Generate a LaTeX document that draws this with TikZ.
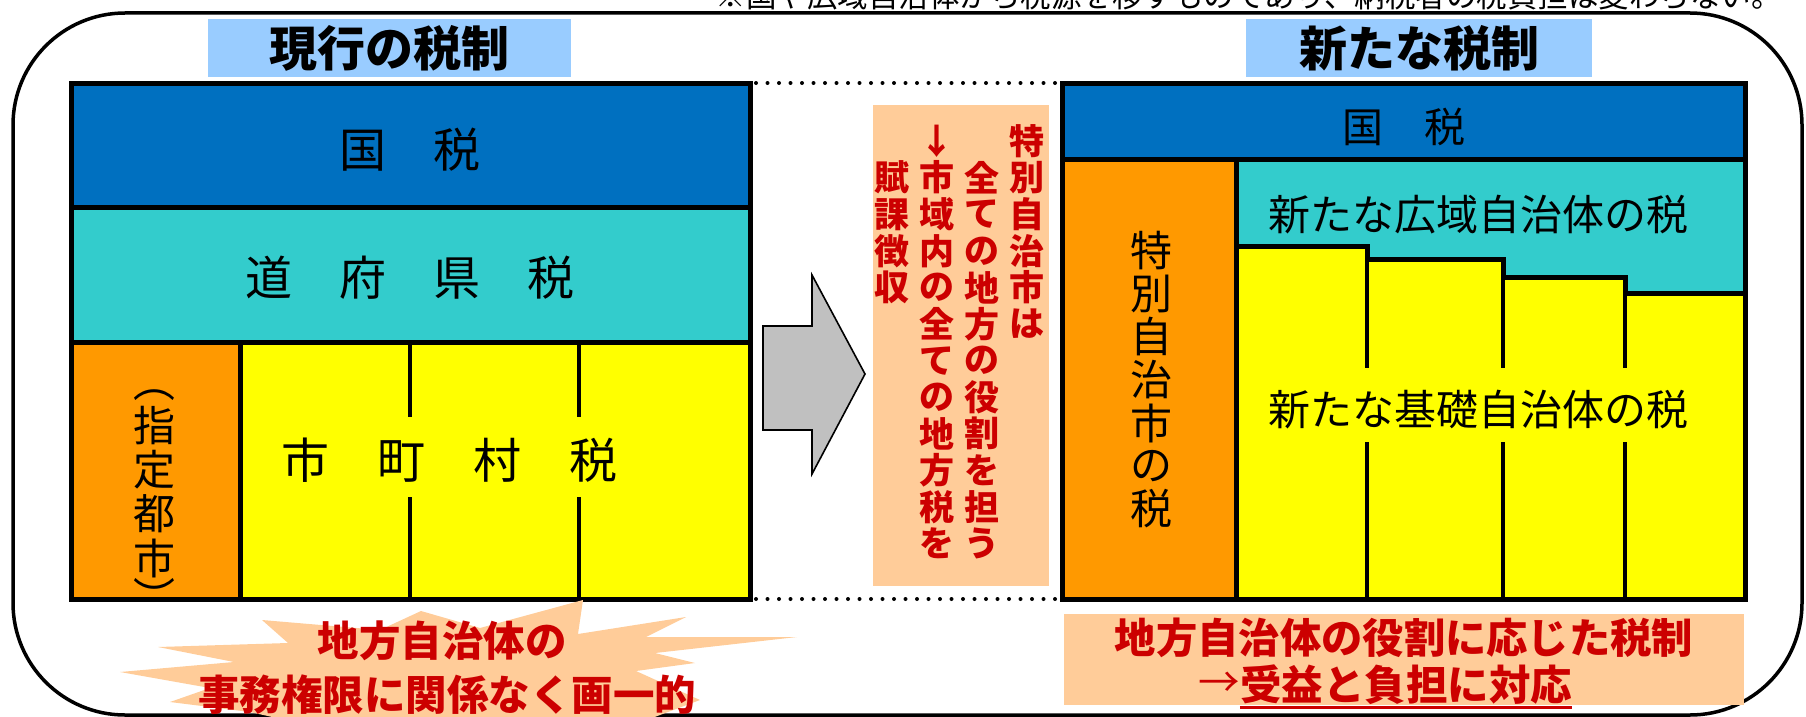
\documentclass[tikz,border=0pt]{standalone}
\usepackage{fontspec}
\newfontfamily\jp{Noto Sans CJK JP}
\definecolor{nblue}{HTML}{0070C0}
\definecolor{ncyan}{HTML}{33CCCC}
\definecolor{norange}{HTML}{FF9900}
\definecolor{nyellow}{HTML}{FFFF00}
\definecolor{ntitle}{HTML}{99CCFF}
\definecolor{npeach}{HTML}{FFCC99}
\definecolor{nred}{HTML}{CC0000}
\definecolor{ngray}{HTML}{C0C0C0}
\newcommand\fs[1]{\fontsize{#1}{#1}\selectfont}
\newlength\vtp
\def\vtloop#1{\ifx\relax#1\else\hbox to 1em{\hss\vbox to \vtp{\vss\hbox{#1}\vss}\hss}\expandafter\vtloop\fi}
\newcommand\vstack[2]{\setlength\vtp{#1}\vbox{\offinterlineskip\vtloop#2\relax}}
\tikzset{
  border/.style={draw=black, line width=5pt},
  divider/.style={draw=black, line width=4.5pt},
  lbl/.style={inner sep=0pt, font=\jp\fs{47}},
  lblr/.style={inner sep=0pt, font=\jp\fs{42}},
  titlebox/.style={fill=ntitle, inner sep=0pt, minimum height=58pt, font=\jp\bfseries\fs{48}},
  redtxt/.style={inner sep=0pt, text=nred, font=\jp\bfseries\fs{41.5}},
  vred/.style={inner sep=0pt, text=nred, font=\jp\bfseries\fs{35}},
  dots/.style={line width=4pt, dash pattern=on 0pt off 11.5pt, line cap=round},
}
\begin{document}
\begin{tikzpicture}[x=1pt,y=-1pt]
\useasboundingbox (0,0) rectangle (1806,717);
% outer frame
\draw[line width=3.5pt, rounded corners=112pt] (13,13) rectangle (1802,715);
% top note (clipped at page top)
\node[anchor=base east, inner sep=0pt, font=\jp\fs{30.5}] (note) at (1782,8)
  {※国や広域自治体から税源を移すものであり、納税者の税負担は変わらない。};
% titles
\node[titlebox, minimum width=363pt] (t1) at (389.5,48) {現行の税制};
\node[titlebox, minimum width=346pt] (t2) at (1419,48) {新たな税制};

% ---------- left block ----------
\fill[nblue] (71,83) rectangle (750,207);
\fill[ncyan] (71,207) rectangle (750,342);
\fill[norange] (71,342) rectangle (240,599);
\fill[nyellow] (240,342) rectangle (750,599);
\draw[divider] (410,342) -- (410,417) (410,497) -- (410,599);
\draw[divider] (579,342) -- (579,417) (579,497) -- (579,599);
\draw[border] (71,207) -- (750,207) (71,342) -- (750,342) (240,342) -- (240,599);
\draw[border] (71,83) rectangle (750,599);
\node[lbl] (kokuzei1) at (410,150) {国　税};
\node[lbl] (dofuken) at (410,278) {道　府　県　税};
\node[lbl, font=\jp\fs{48}] (shichoson) at (449,460) {市　町　村　税};
\node[lbl, font=\jp\fs{42}] (shitei) at (154,492) {\vstack{44pt}{指定都市}};
\node[lbl, font=\jp\fs{42}, rotate=-90] (pl) at (154,381) {（};
\node[lbl, font=\jp\fs{42}, rotate=-90] (pr) at (154,597) {）};

% starburst
\fill[npeach] (583,600) -- (578,634) -- (686,617) -- (646,637) -- (797,637) -- (655,653)
  -- (695,663) -- (636,671) -- (700,700) -- (620,730) -- (460,722) -- (330,730)
  -- (250,712) -- (170,702) -- (210,688) -- (120,672) -- (234,662) -- (158,647)
  -- (288,643) -- (262,620) -- (380,630) -- (421,611) -- (480,628) -- cycle;
\node[redtxt] (burst1) at (442,641) {地方自治体の};
\node[redtxt] (burst2) at (447,695) {事務権限に関係なく画一的};

% ---------- middle ----------
\coordinate (dl1) at (756,83); \coordinate (dr1) at (1058,83);
\coordinate (dl2) at (756,599); \coordinate (dr2) at (1058,599);
\draw[dots] (dl1) -- (dr1);
\draw[dots] (dl2) -- (dr2);
\draw[fill=ngray, line width=1.6pt, line join=miter] (763,326) -- (812,326) -- (812,275) -- (865,374)
  -- (812,474) -- (812,430) -- (763,430) -- cycle;
\fill[npeach] (873,105) rectangle (1049,586);
\node[vred] (c1) at (1027,232.5) {\vstack{36.6pt}{特別自治市は}};
\node[vred] (c2) at (982,360.6) {\vstack{36.6pt}{全ての地方の役割を担う}};
\node[vred] (c3) at (937,342.3) {\vstack{36.6pt}{↓市域内の全ての地方税を}};
\node[vred] (c4) at (892,232.5) {\vstack{36.6pt}{賦課徴収}};

% ---------- right block ----------
\fill[nblue] (1062,83) rectangle (1745,159);
\fill[norange] (1062,159) rectangle (1236,599);
\fill[ncyan] (1236,159) rectangle (1745,599);
\fill[nyellow] (1236,599) -- (1236,246) -- (1367,246) -- (1367,259) -- (1503,259) -- (1503,277)
  -- (1625,277) -- (1625,293) -- (1745,293) -- (1745,599) -- cycle;
\draw[border] (1236,246) -- (1367,246) -- (1367,259) -- (1503,259) -- (1503,277)
  -- (1625,277) -- (1625,293) -- (1745,293);
\draw[divider] (1367,259) -- (1367,368) (1367,442) -- (1367,599);
\draw[divider] (1503,277) -- (1503,368) (1503,442) -- (1503,599);
\draw[divider] (1625,293) -- (1625,368) (1625,442) -- (1625,599);
\draw[border] (1062,159) -- (1745,159) (1236,159) -- (1236,599);
\draw[border] (1062,83) rectangle (1745,599);
\node[lblr, font=\jp\fs{41}] (kokuzei2) at (1404,127) {国　税};
\node[lblr] (koiki) at (1478,215) {新たな広域自治体の税};
\node[lblr] (kiso) at (1478,410) {新たな基礎自治体の税};
\node[lblr] (tokubetsu) at (1151,380) {\vstack{43pt}{特別自治市の税}};

% bottom right box
\fill[npeach] (1064,614) rectangle (1744,705);
\node[redtxt, font=\jp\bfseries\fs{41.3}] (role) at (1404,638) {地方自治体の役割に応じた税制};
\node[redtxt, font=\jp\fs{41.5}] (arr) at (1219,685) {→};
\node[redtxt] (ul) at (1406,685) {受益と負担に対応};
\draw[nred, line width=3pt] ([yshift=-2pt]ul.south west) -- ([yshift=-2pt]ul.south east);
\end{tikzpicture}
\end{document}
